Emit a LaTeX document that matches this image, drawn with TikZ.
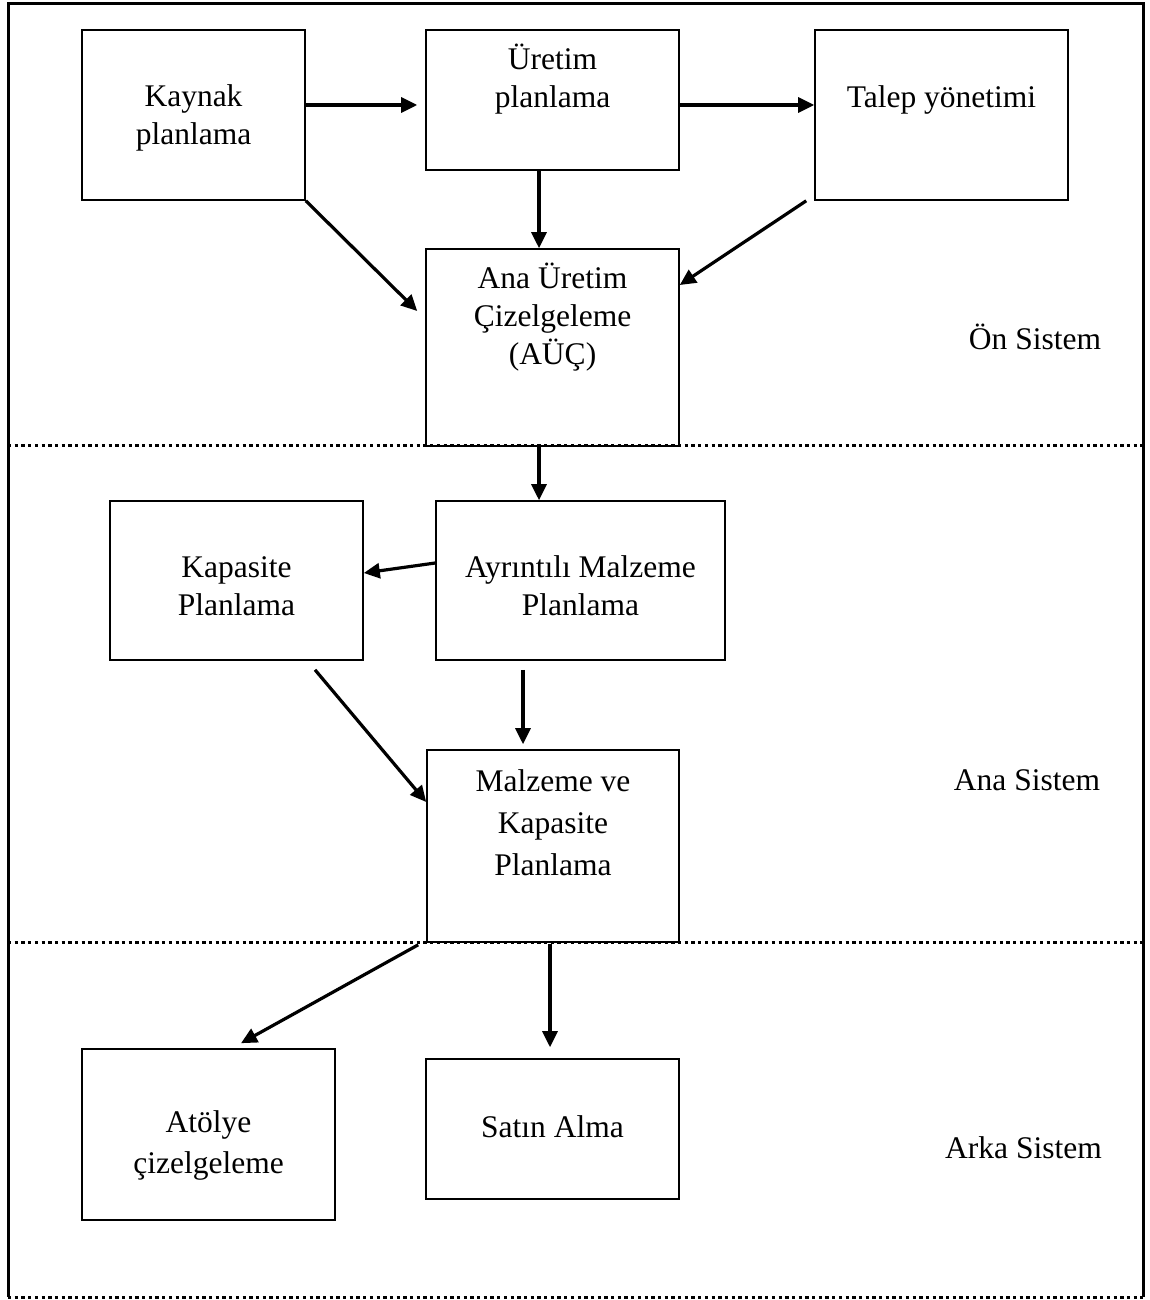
\documentclass[tikz,border=0pt]{standalone}
\usepackage{fontspec}
\setmainfont{Liberation Serif}
\usepackage{xcolor}
\usetikzlibrary{arrows.meta}
\usetikzlibrary{math}

\begin{document}
\begin{tikzpicture}[x=1pt,y=-1pt,
box/.style={draw,line width=1.6pt,inner sep=0pt},
txt/.style={align=center,anchor=base,inner sep=0pt,font=\fontsize{31.5}{38}\selectfont},
arr/.style={line width=3.2pt,-{Triangle[length=16pt,width=15pt]}},
sep/.style={line width=3pt,dash pattern=on 3.3pt off 3.4pt}]
\tikzmath{
\W=1149;
\H=1300;
\xl=8;
\xr=1143;
}
\useasboundingbox (0,0) rectangle (\W,\H);

%%%%%%%%%%   frame
\draw[line width=3pt] (\xl,1297) -- (\xl,4) -- (\xr,4) -- (\xr,1297);
\draw[sep] (\xl,445) -- (\xr,445);
\draw[sep] (\xl,942) -- (\xr,942);
\draw[sep] (\xl,1297) -- (\xr,1297);

%%%%%%%%%%   on sistem
\node[box,minimum width=223pt,minimum height=170pt] (kaynak) at (193.5,115) {};
\node[box,minimum width=253pt,minimum height=140pt] (uretim) at (552.5,100) {};
\node[box,minimum width=253pt,minimum height=170pt] (talep) at (941.5,115) {};
\node[box,minimum width=253pt,minimum height=197pt] (ana) at (552.5,347.5) {};

% base = last line
\node[txt] (kaynak-t) at (193.5,145) {Kaynak\\planlama};
\node[txt] (uretim-t) at (552.5,108) {Üretim\\planlama};
\node[txt] (talep-t) at (941.5,108) {Talep yönetimi};
\node[txt] (ana-t) at (552.5,364) {Ana Üretim\\Çizelgeleme\\(AÜÇ)};
\node[txt] (on-s) at (1035,349) {Ön Sistem};

\draw[arr] ([yshift=10pt]kaynak.east) -- ([xshift=-8pt,yshift=-5pt]uretim.west);
\draw[arr] ([yshift=-5pt]uretim.east) -- ([yshift=10pt]talep.west);
\draw[arr] ([xshift=-13.5pt]uretim.south) -- ([xshift=-13.5pt]ana.north);
\draw[arr] (kaynak.south east) -- ([xshift=-8pt,yshift=36.5pt]ana.west);
\draw[arr] ([xshift=-8pt]talep.south west) -- ([yshift=62.5pt]ana.east);

%%%%%%%%%%   ana sistem
\node[box,minimum width=253pt,minimum height=159pt] (kapasite) at (236.5,580.5) {};
\node[box,minimum width=289pt,minimum height=159pt] (ayrinti) at (580.5,580.5) {};
\node[box,minimum width=252pt,minimum height=192pt] (malzeme) at (553,846) {};

\node[txt] (kapasite-t) at (236.5,615) {Kapasite\\Planlama};
\node[txt] (ayrinti-t) at (580.5,615) {Ayrıntılı Malzeme\\Planlama};
\node[txt,font=\fontsize{31.5}{42}\selectfont] (malzeme-t) at (553,875) {Malzeme ve\\Kapasite\\Planlama};
\node[txt] (ana-s) at (1027,790) {Ana Sistem};

\draw[arr] ([xshift=-13.5pt]ana.south) -- ([xshift=-41.5pt]ayrinti.north);
\draw[arr] ([yshift=17.5pt]ayrinti.west) -- ([yshift=7.5pt]kapasite.east);
\draw[arr] ([xshift=78.5pt,yshift=-9pt]kapasite.south) -- ([yshift=44pt]malzeme.west);
\draw[arr] ([xshift=-57.5pt,yshift=-9pt]ayrinti.south) -- ([xshift=-30pt,yshift=5pt]malzeme.north);

%%%%%%%%%%   arka sistem
\node[box,minimum width=253pt,minimum height=171pt] (atolye) at (208.5,1134.5) {};
\node[box,minimum width=253pt,minimum height=140pt] (satin) at (552.5,1129) {};

\node[txt,font=\fontsize{31.5}{41}\selectfont] (atolye-t) at (208.5,1173) {Atölye\\çizelgeleme};
\node[txt] (satin-t) at (552.5,1137) {Satın Alma};
\node[txt] (arka-s) at (1023.5,1158) {Arka Sistem};

\draw[arr] ([xshift=-8pt,yshift=-2pt]malzeme.south west) -- ([xshift=32.5pt,yshift=5pt]atolye.north);
\draw[arr] ([xshift=-3pt,yshift=-1pt]malzeme.south) -- ([xshift=-2.5pt,yshift=11pt]satin.north);

\end{tikzpicture}
\end{document}
